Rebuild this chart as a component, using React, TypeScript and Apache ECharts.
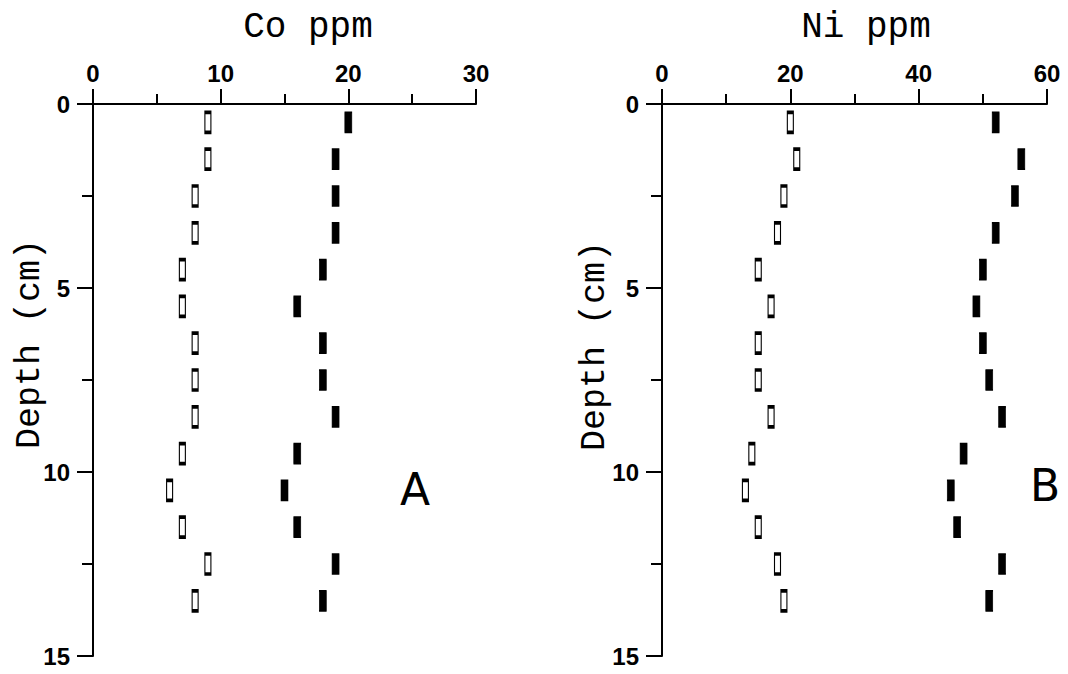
import React, { useEffect, useRef } from "react";
import * as echarts from "echarts";

const depths = [0.5, 1.5, 2.5, 3.5, 4.5, 5.5, 6.5, 7.5, 8.5, 9.5, 10.5, 11.5, 12.5, 13.5];
const coOpen = [9, 9, 8, 8, 7, 7, 8, 8, 8, 7, 6, 7, 9, 8];
const coFilled = [20, 19, 19, 19, 18, 16, 18, 18, 19, 16, 15, 16, 19, 18];
const niOpen = [20, 21, 19, 18, 15, 17, 15, 15, 17, 14, 13, 15, 18, 19];
const niFilled = [52, 56, 55, 52, 50, 49, 50, 51, 53, 47, 45, 46, 53, 51];

const coAxis = { min: 0, max: 30, interval: 10 };
const niAxis = { min: 0, max: 60, interval: 20 };
const depthAxis = { min: 0, max: 15, interval: 5 };

const titles = ["Co ppm", "Ni ppm"];
const panelLetters = ["A", "B"];
const yTitle = "Depth (cm)";

const MONO = "'Liberation Mono', 'DejaVu Sans Mono', monospace";
const TICKFONT = "'Liberation Sans', 'DejaVu Sans', sans-serif";

export default function App() {
  const ref = useRef<HTMLDivElement>(null);
  useEffect(() => {
    if (!ref.current) return;
    const chart = echarts.init(ref.current, undefined, { renderer: "svg" });
    const grids = [
      { left: 93, top: 104, width: 383, height: 552 },
      { left: 662, top: 104, width: 385, height: 552 },
    ];
    const xAx = (idx: number, ax: { min: number; max: number; interval: number }) => ({
      type: "value",
      gridIndex: idx,
      position: "top",
      min: ax.min,
      max: ax.max,
      interval: ax.interval,
      axisLine: { show: true, lineStyle: { color: "#000", width: 2 } },
      axisTick: { show: true, inside: false, length: 15, lineStyle: { color: "#000", width: 2 } },
      minorTick: { show: true, splitNumber: 2, length: 10, lineStyle: { color: "#000", width: 2 } },
      splitLine: { show: false },
      axisLabel: {
        show: true,
        margin: 19,
        color: "#000",
        fontFamily: TICKFONT,
        fontWeight: "bold",
        fontSize: 24,
      },
    });
    const yAx = (idx: number) => ({
      type: "value",
      gridIndex: idx,
      inverse: true,
      min: depthAxis.min,
      max: depthAxis.max,
      interval: depthAxis.interval,
      axisLine: { show: true, lineStyle: { color: "#000", width: 2 } },
      axisTick: { show: true, inside: false, length: 16, lineStyle: { color: "#000", width: 2 } },
      minorTick: { show: true, splitNumber: 2, length: 11, lineStyle: { color: "#000", width: 2 } },
      splitLine: { show: false },
      axisLabel: {
        show: true,
        margin: 23,
        color: "#000",
        fontFamily: TICKFONT,
        fontWeight: "bold",
        fontSize: 24,
      },
    });
    const openStyle = { color: "#fff", borderColor: "#000", borderWidth: 2, opacity: 1 };
    const filledStyle = { color: "#000", borderColor: "#000", borderWidth: 1, opacity: 1 };
    const mk = (vals: number[]) => vals.map((v, i) => [v, depths[i]]);
    const series = [
      { name: "Co open", data: mk(coOpen), idx: 0, style: openStyle, size: [6, 20] },
      { name: "Co filled", data: mk(coFilled), idx: 0, style: filledStyle, size: [7, 20] },
      { name: "Ni open", data: mk(niOpen), idx: 1, style: openStyle, size: [6, 20] },
      { name: "Ni filled", data: mk(niFilled), idx: 1, style: filledStyle, size: [7, 20] },
    ].map((s) => ({
      type: "scatter",
      name: s.name,
      xAxisIndex: s.idx,
      yAxisIndex: s.idx,
      data: s.data,
      symbol: "rect",
      symbolSize: s.size,
      itemStyle: s.style,
      emphasis: { disabled: true },
    }));
    chart.setOption({
      animation: false,
      backgroundColor: "#fff",
      grid: grids,
      xAxis: [xAx(0, coAxis), xAx(1, niAxis)],
      yAxis: [yAx(0), yAx(1)],
      series,
      graphic: [
        {
          type: "text",
          x: 308,
          y: 27,
          style: { text: titles[0], font: `36px ${MONO}`, fill: "#000", align: "center", verticalAlign: "middle" },
        },
        {
          type: "text",
          x: 866,
          y: 27,
          style: { text: titles[1], font: `36px ${MONO}`, fill: "#000", align: "center", verticalAlign: "middle" },
        },
        {
          type: "text",
          x: 30,
          y: 344,
          rotation: Math.PI / 2,
          style: { text: yTitle, font: `35px ${MONO}`, fill: "#000", align: "center", verticalAlign: "middle" },
        },
        {
          type: "text",
          x: 595,
          y: 346,
          rotation: Math.PI / 2,
          style: { text: yTitle, font: `35px ${MONO}`, fill: "#000", align: "center", verticalAlign: "middle" },
        },
        {
          type: "text",
          x: 415,
          y: 489,
          style: { text: panelLetters[0], font: `44px 'DejaVu Sans', sans-serif`, fill: "#000", align: "center", verticalAlign: "middle" },
        },
        {
          type: "text",
          x: 1045,
          y: 485,
          style: { text: panelLetters[1], font: `44px 'DejaVu Sans', sans-serif`, fill: "#000", align: "center", verticalAlign: "middle" },
        },
      ],
    });
    return () => chart.dispose();
  }, []);
  return (
    <div
      ref={ref}
      style={{ position: "absolute", left: 0, top: 0, width: 1068, height: 674, background: "#fff" }}
    />
  );
}
